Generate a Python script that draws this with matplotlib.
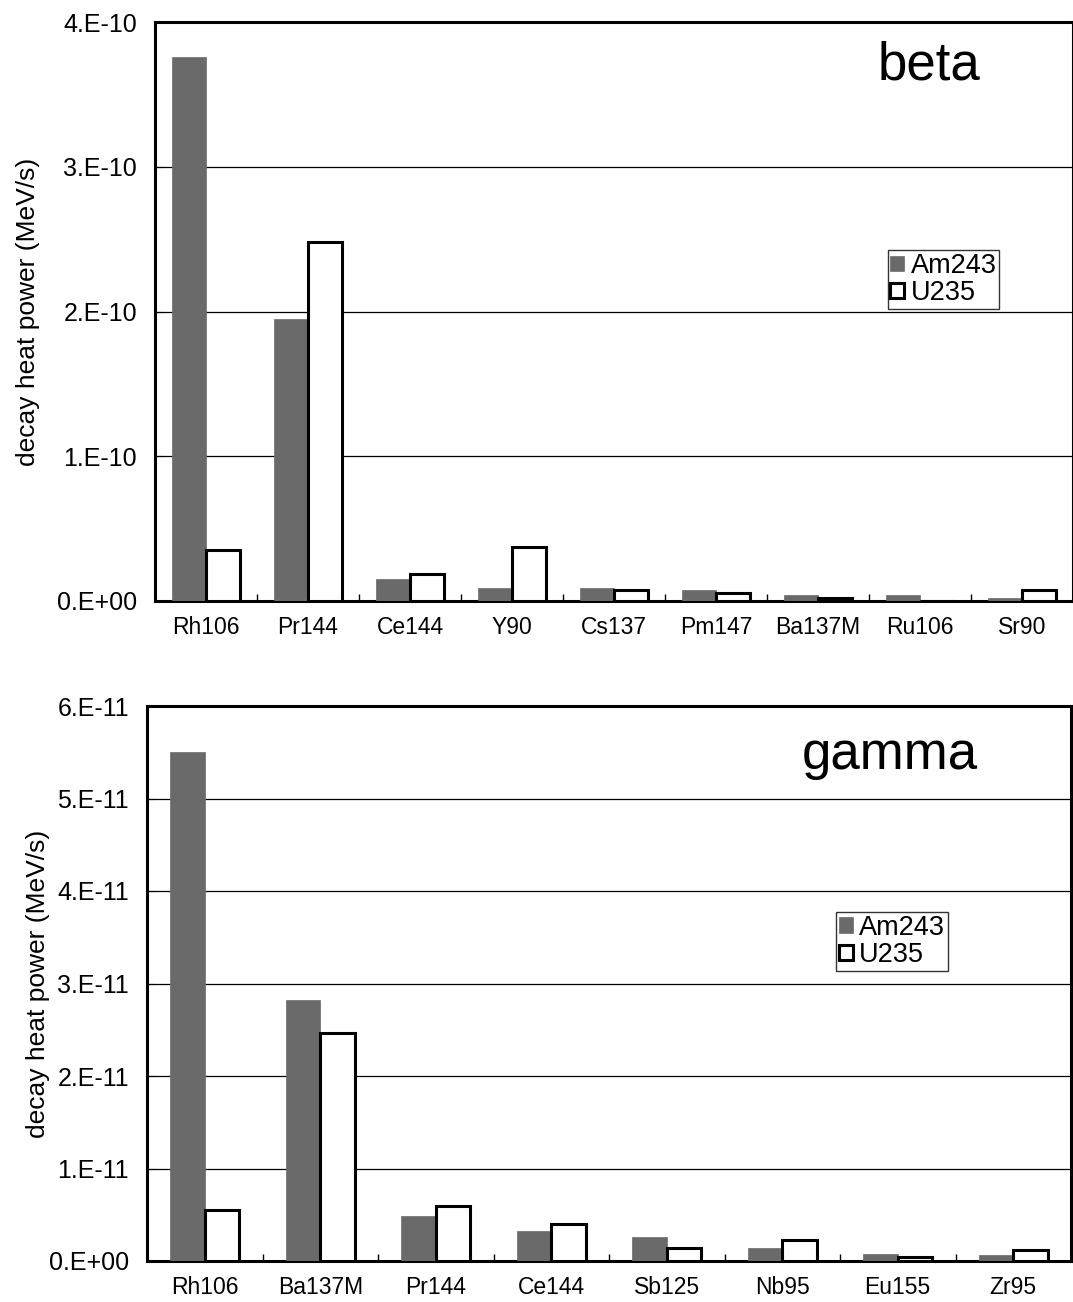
import numpy as np
import matplotlib
matplotlib.use("Agg")
import matplotlib.pyplot as plt
from matplotlib.ticker import FuncFormatter, FixedLocator

# beta panel
beta_nuclides = ["Rh106", "Pr144", "Ce144", "Y90", "Cs137", "Pm147", "Ba137M", "Ru106", "Sr90"]
beta_am243 = [3.76e-10, 1.95e-10, 0.15e-10, 0.09e-10, 0.09e-10, 0.074e-10, 0.041e-10, 0.041e-10, 0.021e-10]
beta_u235 = [0.35e-10, 2.48e-10, 0.185e-10, 0.37e-10, 0.074e-10, 0.057e-10, 0.02e-10, 0.0, 0.074e-10]

# gamma panel
gamma_nuclides = ["Rh106", "Ba137M", "Pr144", "Ce144", "Sb125", "Nb95", "Eu155", "Zr95"]
gamma_am243 = [5.5e-11, 2.82e-11, 0.49e-11, 0.32e-11, 0.26e-11, 0.14e-11, 0.08e-11, 0.06e-11]
gamma_u235 = [0.55e-11, 2.46e-11, 0.60e-11, 0.40e-11, 0.14e-11, 0.23e-11, 0.04e-11, 0.12e-11]

plt.rcParams.update({"font.family": ["Liberation Sans", "DejaVu Sans"]})
GREY = "#6a6a6a"


def sci(v, _):
    if v == 0:
        return "0.E+00"
    e = int(np.floor(np.log10(abs(v)) + 1e-9))
    m = v / 10 ** e
    return f"{m:.0f}.E{e:+03d}"


def panel(ax, names, am, u, ymax, step, title, title_y, leg_anchor, bw):
    x = np.arange(len(names))
    ax.bar(x - bw / 2, am, bw, color=GREY, edgecolor=GREY, lw=0.5, zorder=3, label="Am243")
    ax.bar(x + bw / 2, u, bw, color="white", edgecolor="black", lw=2.2, zorder=3, label="U235")
    ax.set_xlim(-0.5, len(names) - 0.5)
    ax.set_ylim(0, ymax)
    ax.yaxis.set_major_locator(FixedLocator(np.arange(0, ymax + step / 2, step)))
    ax.yaxis.set_major_formatter(FuncFormatter(sci))
    ax.yaxis.grid(True, color="black", lw=0.9, zorder=1)
    ax.set_xticks(x)
    ax.set_xticklabels(names, fontsize=16.5)
    ax.xaxis.set_minor_locator(FixedLocator(np.arange(-0.5, len(names), 1)))
    ax.tick_params(axis="x", which="major", length=0, pad=11)
    ax.tick_params(axis="x", which="minor", direction="in", length=5, width=1)
    ax.tick_params(axis="y", direction="in", length=6, labelsize=18, pad=13)
    for s in ax.spines.values():
        s.set_linewidth(2.2)
    ax.set_ylabel("decay heat power (MeV/s)", fontsize=19)
    ax.text(0.899, title_y, title, transform=ax.transAxes, ha="right", va="baseline", fontsize=38)
    leg = ax.legend(loc="upper left", bbox_to_anchor=leg_anchor, fontsize=19.5, frameon=True,
                    fancybox=False, edgecolor="black", handlelength=0.5, handleheight=0.5,
                    handletextpad=0.25, borderpad=0.1, labelspacing=0.05, borderaxespad=0)
    leg.get_frame().set_linewidth(1.0)


fig = plt.figure(figsize=(10.73, 13.02), dpi=100, facecolor="white")
ax1 = fig.add_axes([155 / 1073, 1 - 601 / 1302, 918 / 1073, 579 / 1302])
ax2 = fig.add_axes([147 / 1073, 1 - 1261 / 1302, 924 / 1073, 555 / 1302])

panel(ax1, beta_nuclides, beta_am243, beta_u235, 4e-10, 1e-10, "beta", 0.9, (0.798, 0.606), 0.33)
panel(ax2, gamma_nuclides, gamma_am243, gamma_u235, 6e-11, 1e-11, "gamma", 0.887, (0.746, 0.629), 0.3)
ax1.yaxis.set_label_coords(-0.125, 0.5)
ax2.yaxis.set_label_coords(-0.105, 0.5)

fig.savefig("out.png", dpi=100, facecolor="white")
